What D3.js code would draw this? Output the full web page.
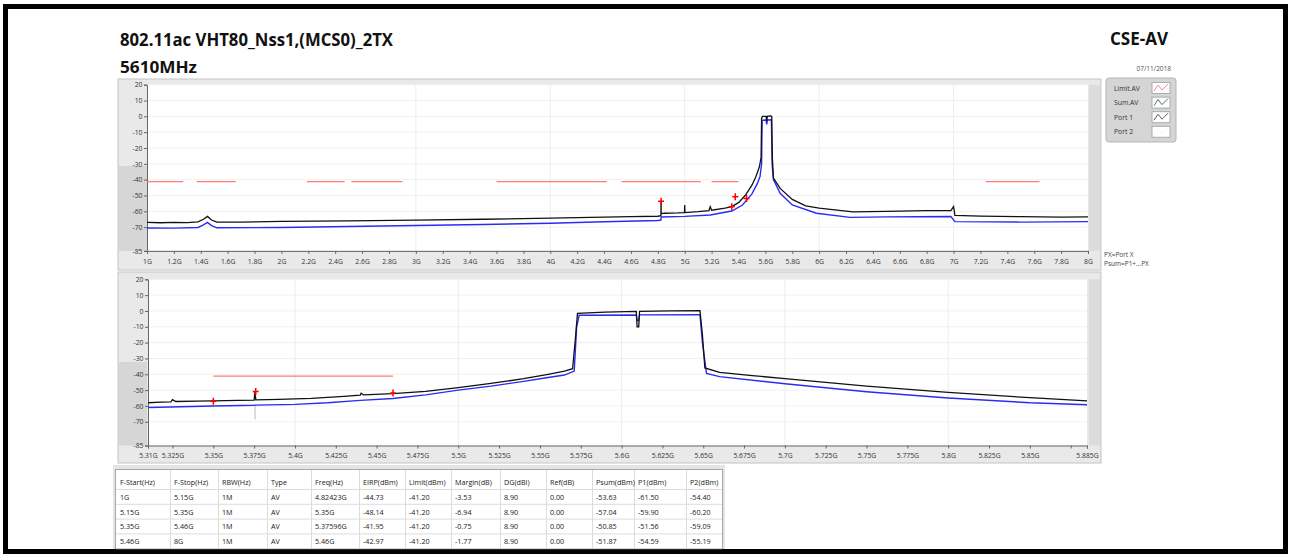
<!DOCTYPE html>
<html><head><meta charset="utf-8">
<script src="https://cdn.jsdelivr.net/npm/d3@7"></script>
<style>
html,body{margin:0;padding:0;background:#fff;}
svg{display:block;font-family:"Open Sans","Noto Sans",sans-serif;}
.tick text{fill:#333;}
</style></head><body>
<svg id="c" width="1292" height="558"></svg>
<script>
// ---------- DATA ----------
const titleText = "802.11ac VHT80_Nss1,(MCS0)_2TX";
const subtitleText = "5610MHz";
const brandText = "CSE-AV";
const dateText = "07/11/2018";
const legendLabels = ["Limit.AV", "Sum.AV", "Port 1", "Port 2"];
const notes = ["PX=Port X", "Psum=P1+...PX"];

const yTicks = [20, 10, 0, -10, -20, -30, -40, -50, -60, -70, -85];
const topXTicks = [1,1.2,1.4,1.6,1.8,2,2.2,2.4,2.6,2.8,3,3.2,3.4,3.6,3.8,4,4.2,4.4,4.6,4.8,5,5.2,5.4,5.6,5.8,6,6.2,6.4,6.6,6.8,7,7.2,7.4,7.6,7.8,8];
const botXTicks = [5.31,5.325,5.35,5.375,5.4,5.425,5.45,5.475,5.5,5.525,5.55,5.575,5.6,5.625,5.65,5.675,5.7,5.725,5.75,5.775,5.8,5.825,5.85,5.875,5.885];
const botXLabels = ["5.31G","5.325G","5.35G","5.375G","5.4G","5.425G","5.45G","5.475G","5.5G","5.525G","5.55G","5.575G","5.6G","5.625G","5.65G","5.675G","5.7G","5.725G","5.75G","5.775G","5.8G","5.825G","5.85G","","5.885G"];

const limitValue = -41.2;
// visible limit segments (GHz) in the overview chart
const topLimitSegs = [[1.0,1.27],[1.37,1.66],[2.19,2.47],[2.52,2.9],[3.6,4.42],[4.53,5.12],[5.2,5.4],[7.24,7.64]];
const botLimitSegs = [[5.35,5.46]];

// overview traces [GHz, dBm]
const topSum = [[1.0,-67],[1.1,-67.2],[1.2,-67],[1.3,-67.1],[1.38,-66.6],[1.42,-65],[1.45,-63.2],[1.48,-65.5],[1.52,-66.8],[1.7,-66.8],[2.0,-66.4],[2.5,-66],[3.0,-65.5],[3.5,-65],[4.0,-64.3],[4.4,-63.6],[4.6,-63.4],[4.8,-63.1],[4.823,-62.8],[4.824,-53.6],[4.825,-61.5],[4.85,-61.2],[4.95,-61],[4.998,-60.8],[5.0,-56],[5.002,-60.8],[5.1,-60.2],[5.18,-59.5],[5.19,-57],[5.2,-59.3],[5.3,-58],[5.35,-57],[5.4,-54.5],[5.45,-50],[5.5,-43.5],[5.53,-38],[5.555,-32],[5.568,-26],[5.572,-1],[5.58,0],[5.605,0],[5.61,-3],[5.615,0],[5.64,0.3],[5.647,0],[5.652,-26],[5.66,-39],[5.71,-45.5],[5.8,-52.5],[5.9,-56.5],[6.0,-58],[6.25,-60.3],[6.5,-60],[6.8,-59.6],[6.98,-59.5],[7.0,-57],[7.01,-62.5],[7.2,-63],[7.5,-63.4],[7.8,-63.6],[8.0,-63.5]];
const topPort1 = [[1.0,-70.5],[1.2,-70.6],[1.38,-70.2],[1.42,-68.5],[1.45,-67],[1.48,-69],[1.52,-70.4],[2.0,-70.2],[2.5,-69.6],[3.0,-69],[3.5,-68.3],[4.0,-67.5],[4.4,-66.6],[4.8,-65.8],[4.823,-65.5],[4.825,-63.6],[5.0,-63.2],[5.19,-62.3],[5.35,-59.8],[5.43,-56],[5.5,-49],[5.54,-42.5],[5.56,-38],[5.572,-30],[5.576,-2.5],[5.605,-2.3],[5.61,-5],[5.615,-2.3],[5.645,-2.2],[5.65,-30],[5.66,-40],[5.71,-48.6],[5.8,-56],[5.98,-61.2],[6.23,-63.8],[6.5,-63.5],[6.98,-63.3],[7.01,-66.5],[7.5,-66.8],[8.0,-66.5]];

// zoomed traces [GHz, dBm]
const botSum = [[5.31,-58],[5.318,-57.6],[5.324,-57.4],[5.325,-56],[5.327,-57.2],[5.34,-57],[5.35,-56.8],[5.365,-56.5],[5.375,-56.3],[5.3755,-50.8],[5.376,-56.2],[5.39,-55.8],[5.41,-55.2],[5.43,-54],[5.44,-53.2],[5.4405,-52],[5.442,-53],[5.46,-52.2],[5.48,-50.8],[5.5,-48.5],[5.52,-45.8],[5.54,-42.8],[5.555,-40],[5.565,-38],[5.57,-36.5],[5.5715,-20],[5.573,-1.5],[5.59,-0.8],[5.609,-0.3],[5.6095,-10],[5.6105,-10],[5.611,-0.2],[5.63,0],[5.648,0.2],[5.6495,-15],[5.651,-36],[5.66,-38.8],[5.68,-40.8],[5.7,-42.8],[5.75,-47.5],[5.8,-51.5],[5.85,-54.8],[5.885,-56.8]];
const botPort1 = [[5.31,-61],[5.33,-60.5],[5.35,-60],[5.375,-59.6],[5.376,-59.5],[5.4,-59],[5.42,-58],[5.44,-56.5],[5.46,-55.3],[5.48,-53],[5.5,-50],[5.52,-47.5],[5.54,-44.5],[5.555,-42],[5.565,-40.5],[5.571,-38],[5.5725,-10],[5.574,-2.7],[5.609,-2.6],[5.6095,-6],[5.6105,-6],[5.611,-2.5],[5.648,-2.4],[5.6495,-20],[5.652,-39.5],[5.66,-41.5],[5.7,-46],[5.75,-51],[5.8,-55],[5.85,-58],[5.885,-59.3]];
const botPort2 = [[5.3755,-59.5],[5.3756,-68.5]];

// result table
const tableHeaders = ["F-Start(Hz)","F-Stop(Hz)","RBW(Hz)","Type","Freq(Hz)","EIRP(dBm)","Limit(dBm)","Margin(dB)","DG(dBi)","Ref(dB)","Psum(dBm)","P1(dBm)","P2(dBm)"];
const fStart = ["1G","5.15G","5.35G","5.46G"];
const fStop = ["5.15G","5.35G","5.46G","8G"];
const rbw = ["1M","1M","1M","1M"];
const types = ["AV","AV","AV","AV"];
const freqLabels = ["4.82423G","5.35G","5.37596G","5.46G"];
const freqGHz = [4.82423, 5.35, 5.37596, 5.46];
const eirp = [-44.73,-48.14,-41.95,-42.97];
const limits = [-41.20,-41.20,-41.20,-41.20];
const margin = [-3.53,-6.94,-0.75,-1.77];
const dg = [8.90,8.90,8.90,8.90];
const ref = [0.00,0.00,0.00,0.00];
const psum = [-53.63,-57.04,-50.85,-51.87];
const p1 = [-61.50,-59.90,-51.56,-54.59];
const p2 = [-54.40,-60.20,-59.09,-55.19];

// ---------- DRAW ----------
const svg = d3.select("#c");
const f2 = v => v.toFixed(2);

// outer frame
svg.append("rect").attr("x",5.5).attr("y",6.5).attr("width",1280).attr("height",545)
  .attr("fill","#fff").attr("stroke","#000").attr("stroke-width",5);

// titles
svg.append("text").attr("x",120).attr("y",46).attr("font-size",17).attr("font-weight",700)
  .attr("fill","#111").attr("textLength",273).attr("lengthAdjust","spacingAndGlyphs").text(titleText);
svg.append("text").attr("x",120).attr("y",73).attr("font-size",16).attr("font-weight",700)
  .attr("fill","#111").attr("textLength",77).attr("lengthAdjust","spacingAndGlyphs").text(subtitleText);
svg.append("text").attr("x",1168).attr("y",45).attr("text-anchor","end").attr("font-size",17).attr("font-weight",700)
  .attr("fill","#111").text(brandText);
svg.append("text").attr("x",1171).attr("y",71).attr("text-anchor","end").attr("font-size",6.5)
  .attr("fill","#555").text(dateText);

function panel(cfg){
  const g = svg.append("g");
  g.append("rect").attr("x",118).attr("y",cfg.py0).attr("width",983).attr("height",cfg.py1-cfg.py0)
    .attr("fill","#e9e9e9").attr("stroke","#c4c4c4");
  g.append("rect").attr("x",119).attr("y",cfg.dark0).attr("width",28).attr("height",cfg.y.range()[0]-cfg.dark0)
    .attr("fill","#d6d6d6");
  g.append("rect").attr("x",1089).attr("y",cfg.y.range()[1]).attr("width",11).attr("height",cfg.y.range()[0]-cfg.y.range()[1])
    .attr("fill","#dcdcdc");
  const [xa,xb] = cfg.x.range(), [yb,ya] = cfg.y.range();
  g.append("rect").attr("x",xa).attr("y",ya).attr("width",xb-xa).attr("height",yb-ya).attr("fill","#fff");
  g.append("g").selectAll("line").data(yTicks).join("line")
    .attr("x1",xa).attr("x2",xb).attr("y1",d=>cfg.y(d)).attr("y2",d=>cfg.y(d))
    .attr("stroke","#f1f1f1");
  g.append("g").selectAll("line").data(cfg.grid).join("line")
    .attr("y1",ya).attr("y2",yb).attr("x1",d=>cfg.x(d)).attr("x2",d=>cfg.x(d))
    .attr("stroke","#ededed");
  const ay = g.append("g").attr("transform",`translate(${xa},0)`)
    .call(d3.axisLeft(cfg.y).tickValues(yTicks).tickFormat(d=>String(d)).tickSize(3).tickPadding(1.5));
  ay.select(".domain").attr("stroke","#666");
  ay.selectAll(".tick line").attr("stroke","#666");
  ay.selectAll("text").attr("font-size",6.8).attr("font-family","Open Sans");
  const ax = g.append("g").attr("transform",`translate(0,${yb})`)
    .call(d3.axisBottom(cfg.x).tickValues(cfg.ticks).tickFormat(cfg.fmt).tickSize(3).tickPadding(5));
  ax.select(".domain").attr("stroke","#666");
  ax.selectAll(".tick line").attr("stroke","#666");
  ax.selectAll("text").attr("font-size",6.8).attr("font-family","Open Sans");
  const clipId = "clip"+cfg.id;
  svg.append("clipPath").attr("id",clipId).append("rect")
    .attr("x",xa).attr("y",ya-2).attr("width",xb-xa+1).attr("height",yb-ya+2);
  const pg = g.append("g").attr("clip-path",`url(#${clipId})`);
  pg.selectAll(".lim").data(cfg.lim).join("line")
    .attr("x1",d=>cfg.x(d[0])).attr("x2",d=>cfg.x(d[1]))
    .attr("y1",cfg.y(limitValue)).attr("y2",cfg.y(limitValue))
    .attr("stroke","#ff7a7a").attr("stroke-width",1.2);
  const line = d3.line().x(d=>cfg.x(d[0])).y(d=>cfg.y(d[1]));
  if (cfg.p2) pg.append("path").datum(cfg.p2).attr("d",line).attr("fill","none").attr("stroke","#b8b8b8").attr("stroke-width",1);
  pg.append("path").datum(cfg.p1).attr("d",line).attr("fill","none").attr("stroke","#2b2bf5").attr("stroke-width",1.4);
  pg.append("path").datum(cfg.sum).attr("d",line).attr("fill","none").attr("stroke","#111").attr("stroke-width",1.3);
  const mk = freqGHz.map((f,i)=>[f,psum[i]]).filter(d=>d[0]>=cfg.x.domain()[0] && d[0]<=cfg.x.domain()[1]);
  const mg = pg.selectAll(".mk").data(mk).join("g")
    .attr("transform",d=>`translate(${cfg.x(d[0])},${cfg.y(d[1])})`);
  mg.append("line").attr("x1",-3).attr("x2",3).attr("stroke","#f00").attr("stroke-width",1.5);
  mg.append("line").attr("y1",-3.5).attr("y2",3.5).attr("stroke","#f00").attr("stroke-width",1.5);
  return g;
}

const xTop = d3.scaleLinear().domain([1,8]).range([147,1088]);
const yTop = d3.scaleLinear().domain([-85,20]).range([250.9,84.7]);
panel({id:1, x:xTop, y:yTop, py0:79, py1:270, dark0:166, ticks:topXTicks,
  fmt:d=>(Math.round(d*10)/10)+"G", grid:[3,4,5,6,7], lim:topLimitSegs, sum:topSum, p1:topPort1});

const xBot = d3.scaleLinear().domain([5.31,5.885]).range([148,1087]);
const yBot = d3.scaleLinear().domain([-85,20]).range([445.5,279.3]);
panel({id:2, x:xBot, y:yBot, py0:272, py1:463, dark0:362, ticks:botXTicks,
  fmt:(d,i)=>botXLabels[i], grid:[5.4,5.5,5.6,5.7,5.8], lim:botLimitSegs, sum:botSum, p1:botPort1, p2:botPort2});

// legend
const lg = svg.append("g");
lg.append("rect").attr("x",1106).attr("y",78).attr("width",70).attr("height",64).attr("rx",3)
  .attr("fill","#d5d5d5").attr("stroke","#b5b5b5");
const legColors = ["#f27a8a","#3f5f5a","#4a4a4a","#f2f2f2"];
const li = lg.selectAll(".li").data(legendLabels).join("g")
  .attr("transform",(d,i)=>`translate(0,${88+i*14.6})`);
li.append("text").attr("x",1114).attr("y",2.5).attr("font-size",6.8).attr("fill","#333").text(d=>d);
li.append("rect").attr("x",1152).attr("y",-5.5).attr("width",18).attr("height",11).attr("fill","#fff").attr("stroke","#aaa");
li.append("path").attr("d","M1154,3 L1158,-3 L1162,2 L1168,-4").attr("fill","none")
  .attr("stroke",(d,i)=>legColors[i]).attr("stroke-width",0.9);

svg.selectAll(".note").data(notes).join("text")
  .attr("x",1104).attr("y",(d,i)=>257+i*8.5).attr("font-size",6.5).attr("fill","#444").text(d=>d);

// table
const tg = svg.append("g");
tg.append("rect").attr("x",113).attr("y",465).attr("width",612).attr("height",84).attr("fill","#e4e4e4");
tg.append("rect").attr("x",115.5).attr("y",469.5).attr("width",607).attr("height",79).attr("fill","#fff").attr("stroke","#a8a8a8");
const colX = [120,174,222,271,315,363,409,455,504,550,596,638,690];
const rows = fStart.map((d,i)=>[fStart[i],fStop[i],rbw[i],types[i],freqLabels[i],f2(eirp[i]),f2(limits[i]),f2(margin[i]),f2(dg[i]),f2(ref[i]),f2(psum[i]),f2(p1[i]),f2(p2[i])]);
const rowY = d => 485 + d*14.8;
tg.selectAll(".vl").data(colX.slice(1)).join("line")
  .attr("x1",d=>d-3.5).attr("x2",d=>d-3.5).attr("y1",470).attr("y2",548).attr("stroke","#dcdcdc");
tg.selectAll(".hl").data([0,1,2,3,4]).join("line")
  .attr("x1",116).attr("x2",722).attr("y1",d=>rowY(d)+4.5).attr("y2",d=>rowY(d)+4.5).attr("stroke","#dcdcdc");
tg.selectAll(".hd").data(tableHeaders).join("text")
  .attr("x",(d,i)=>colX[i]).attr("y",rowY(0)).attr("font-size",7.2).attr("fill","#222").text(d=>d);
rows.forEach((r,ri)=>{
  tg.selectAll(".r"+ri).data(r).join("text")
    .attr("x",(d,i)=>colX[i]).attr("y",rowY(ri+1)).attr("font-size",7.2).attr("fill","#222").text(d=>d);
});
</script></body></html>
